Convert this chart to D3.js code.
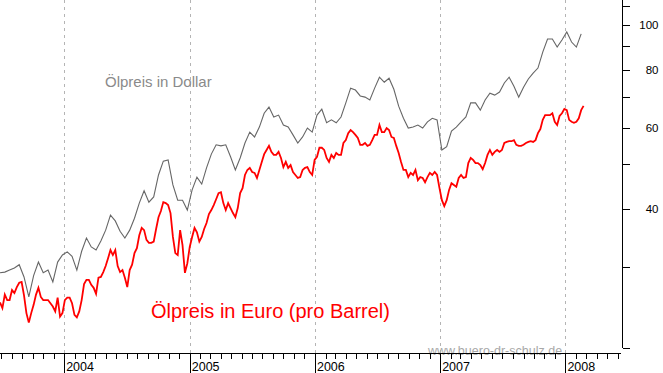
<!DOCTYPE html>
<html><head><meta charset="utf-8">
<script src="https://cdn.jsdelivr.net/npm/d3@7"></script>
<style>html,body{margin:0;padding:0;background:#fff;overflow:hidden}</style>
</head><body>
<svg id="c" width="663" height="373"></svg>
<script>
// ---- data ----
const startDate = new Date(2003, 5, 28);
const endDate = new Date(2008, 5, 14);
const yearTicks = [2004, 2005, 2006, 2007, 2008];
const priceTicks = [20, 30, 40, 50, 60, 70, 80, 90, 100, 110];
const priceLabels = [40, 60, 80, 100];
const euroStepDays = 7;     // weekly readings
const euroValues = [
25.1,24.4,26.1,25.4,25.4,26.7,26.3,27.1,27.7,27.8,
26.0,23.8,22.7,23.8,24.8,26.1,27.0,25.8,25.4,25.4,
25.4,25.0,24.6,24.0,25.7,23.4,23.8,25.4,25.7,25.7,
25.0,23.6,23.3,24.0,25.4,27.5,28.1,28.1,27.4,27.0,
26.2,28.4,28.5,29.2,30.1,31.3,32.6,31.8,32.6,30.1,
29.2,29.5,28.4,27.1,29.5,30.3,32.1,32.9,35.1,36.4,
36.0,34.3,33.8,33.8,34.0,36.2,38.4,39.6,41.4,41.2,
40.8,39.2,34.8,32.1,31.8,36.0,33.4,29.1,30.5,33.1,
34.8,36.4,35.6,34.0,34.8,36.2,37.3,39.0,39.8,40.8,
42.0,43.3,43.5,41.2,39.8,41.2,40.2,39.2,38.4,40.2,
43.3,44.4,47.4,48.6,49.1,48.1,47.9,46.7,48.6,50.6,
52.6,53.7,54.8,53.2,52.4,52.4,53.2,51.6,49.3,50.6,
49.1,49.8,48.1,47.4,46.7,46.9,48.6,49.1,49.3,48.1,
47.4,51.1,51.9,54.3,54.3,53.7,51.6,50.6,52.4,51.6,
52.9,52.4,52.4,55.6,56.4,58.4,59.3,58.7,57.9,57.0,
55.1,55.1,55.6,54.8,55.1,56.4,57.9,57.9,60.8,58.7,
58.7,59.9,59.3,57.3,57.0,54.8,52.9,50.6,48.6,48.6,
46.9,47.9,47.4,48.6,46.2,46.9,46.7,45.7,46.9,47.9,
47.4,48.1,47.4,44.4,41.8,40.6,41.8,44.0,45.5,45.1,
44.7,46.7,47.4,46.7,46.9,50.3,51.6,51.1,50.3,50.3,
49.8,48.8,50.3,52.4,53.7,52.4,53.2,53.7,53.2,53.7,
55.6,55.9,56.1,56.1,56.4,55.1,54.8,54.8,55.1,55.6,
55.9,56.1,55.9,56.4,58.4,59.6,62.4,63.9,63.9,63.9,
64.5,61.8,60.8,63.6,64.5,65.9,65.5,62.4,61.8,61.5,
61.8,62.9,65.5,66.9
];
const dollarStepDays = 14;  // two-weekly readings
const dollarValues = [
29.1,29.2,29.5,29.8,30.3,28.5,25.8,28.7,30.7,29.1,
29.5,27.8,30.7,31.8,32.3,31.6,29.5,32.4,34.6,33.1,
32.6,34.1,36.0,38.8,37.7,35.8,34.6,36.0,38.2,41.2,
43.8,41.4,42.5,47.4,50.8,51.1,45.1,41.8,41.8,39.8,
44.0,46.9,45.3,49.1,52.6,55.1,54.8,55.1,51.9,48.6,
51.6,55.6,58.7,57.3,60.2,64.5,66.5,63.3,63.9,60.8,
60.2,57.9,55.6,57.3,59.9,58.7,63.9,65.8,61.5,62.4,
61.5,63.3,67.9,73.1,72.4,70.3,69.9,68.9,73.1,77.2,
75.3,76.8,72.7,66.8,62.9,59.9,60.2,60.8,59.9,61.8,
62.9,62.4,53.7,54.6,59.0,60.2,61.8,63.3,67.9,67.9,
65.5,68.9,71.3,70.6,71.7,75.0,77.2,73.8,69.9,73.4,
76.5,78.8,80.8,87.5,93.4,93.4,89.7,92.9,96.7,92.0,
89.7,95.8
];
const titleDollar = "Ölpreis in Dollar";
const titleEuro = "Ölpreis in Euro (pro Barrel)";
const watermark = "www.buero-dr-schulz.de";

// ---- chart ----
const FONT = "'Liberation Sans', Arial, sans-serif";
const svg = d3.select("#c");
const axisY = 353.5, axisX = 622.5;

const x = d3.scaleTime().domain([startDate, endDate]).range([0, 622]);
const y = d3.scaleLog().domain([20, 100]).range([348, 25.3]);

const euro = euroValues.map((v, i) => ({d: d3.timeDay.offset(startDate, i * euroStepDays), v}));
const dollar = dollarValues.map((v, i) => ({d: d3.timeDay.offset(startDate, i * dollarStepDays), v}));

// grid lines at year starts
const yearDates = yearTicks.map(yr => new Date(yr, 0, 1));
svg.append("g").selectAll("line").data(yearDates).join("line")
  .attr("x1", d => Math.round(x(d)) + 0.5).attr("x2", d => Math.round(x(d)) + 0.5)
  .attr("y1", 0).attr("y2", axisY)
  .attr("stroke", "#b4b4b4").attr("stroke-width", 1).attr("stroke-dasharray", "3,4");

// watermark (behind axis)
svg.append("text").attr("x", 428).attr("y", 354.5)
  .attr("font-family", FONT).attr("font-size", 12.5).attr("fill", "#a8a8a8")
  .text(watermark);

// lines
const line = d3.line().x(d => x(d.d)).y(d => y(d.v));
svg.append("path").datum(dollar).attr("d", line)
  .attr("fill", "none").attr("stroke", "#666666").attr("stroke-width", 1.1);
svg.append("path").datum(euro).attr("d", line)
  .attr("fill", "none").attr("stroke", "#ff0000").attr("stroke-width", 1.8)
  .attr("stroke-linejoin", "miter");

// bottom axis: monthly minor ticks
const gx = svg.append("g").attr("transform", `translate(0,${axisY})`)
  .attr("shape-rendering", "crispEdges");
gx.call(d3.axisBottom(x).ticks(d3.timeMonth.every(1)).tickSize(5).tickSizeOuter(0).tickFormat(""));
gx.select(".domain").remove();
gx.selectAll(".tick line").attr("stroke", "#000");
svg.append("line").attr("x1", 0).attr("x2", 621).attr("y1", axisY).attr("y2", axisY)
  .attr("stroke", "#000").attr("shape-rendering", "crispEdges");

// year ticks + labels
const gyr = svg.append("g").attr("transform", `translate(0,${axisY})`)
  .attr("shape-rendering", "crispEdges");
gyr.call(d3.axisBottom(x).tickValues(yearDates).tickSize(20).tickSizeOuter(0)
  .tickFormat(d3.timeFormat("%Y")));
gyr.select(".domain").remove();
gyr.selectAll(".tick line").attr("stroke", "#000");
gyr.selectAll(".tick text").attr("x", 1.5).attr("y", 17).attr("dy", null)
  .attr("text-anchor", "start").attr("font-family", FONT).attr("font-size", 12.5)
  .attr("fill", "#000");

// right axis (log)
const gy = svg.append("g").attr("transform", `translate(${axisX},0)`)
  .attr("shape-rendering", "crispEdges");
gy.call(d3.axisRight(y).tickValues(priceTicks).tickSize(7).tickSizeOuter(0)
  .tickFormat(d => priceLabels.includes(d) ? d : ""));
gy.select(".domain").remove();
gy.selectAll(".tick line").attr("stroke", "#000");
gy.selectAll(".tick text").attr("x", 36).attr("text-anchor", "end")
  .attr("font-family", FONT).attr("font-size", 11.5).attr("fill", "#000");
gy.append("line").attr("x1", 0).attr("x2", 0).attr("y1", 0).attr("y2", y(20))
  .attr("stroke", "#000");

// titles
svg.append("text").attr("x", 105).attr("y", 87)
  .attr("font-family", FONT).attr("font-size", 15).attr("fill", "#8a8a8a")
  .text(titleDollar);
svg.append("text").attr("x", 151).attr("y", 317.5)
  .attr("font-family", FONT).attr("font-size", 20).attr("fill", "#ff0000")
  .text(titleEuro);
</script>
</body></html>
